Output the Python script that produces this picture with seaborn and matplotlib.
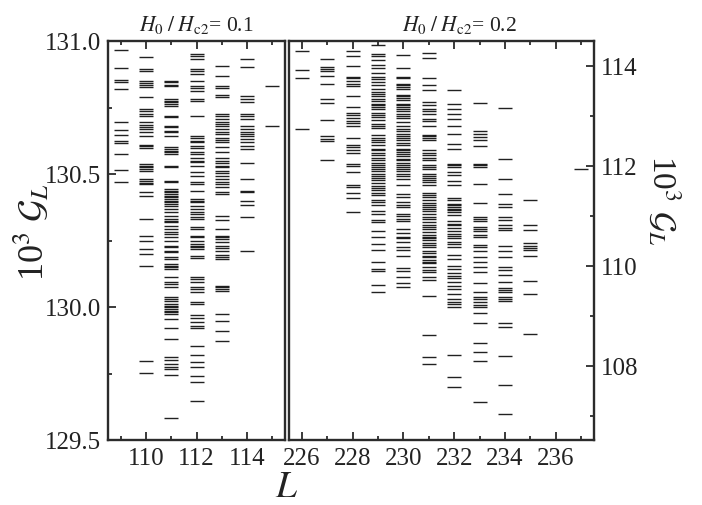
import pandas as pd
import matplotlib
matplotlib.use("Agg")
import matplotlib.pyplot as plt
import seaborn as sns
from matplotlib.ticker import MultipleLocator, FixedLocator

# ------------------------------------------------------------
# data: levels of 10^3 G_L for each cluster size L
# ------------------------------------------------------------
# panel 1 : H0/Hc2 = 0.1
left_109 = [130.965, 130.90, 130.855, 130.845, 130.82, 130.695, 130.665, 130.645,
            130.625, 130.615, 130.575, 130.515, 130.47]
left_110 = [130.939, 130.895, 130.888, 130.848, 130.842, 130.835, 130.826, 130.788,
            130.744, 130.738, 130.726, 130.719, 130.694, 130.684, 130.676, 130.669,
            130.657, 130.644, 130.609, 130.604, 130.597, 130.538, 130.531, 130.525,
            130.518, 130.512, 130.481, 130.475, 130.468, 130.462, 130.431, 130.418,
            130.331, 130.268, 130.25, 130.218, 130.199, 130.153, 129.796, 129.752]
left_111 = [130.851, 130.845, 130.835, 130.83, 130.782, 130.776, 130.769, 130.763,
            130.757, 130.719, 130.713, 130.682, 130.675, 130.663, 130.657, 130.644,
            130.60, 130.594, 130.588, 130.581, 130.575, 130.531, 130.525, 130.475,
            130.469, 130.444, 130.437, 130.431, 130.425, 130.419, 130.412, 130.406,
            130.40, 130.393, 130.387, 130.381, 130.368, 130.356, 130.343, 130.331,
            130.325, 130.318, 130.306, 130.293, 130.281, 130.274, 130.262, 130.249,
            130.231, 130.224, 130.212, 130.206, 130.187, 130.18, 130.162, 130.155,
            130.149, 130.143, 130.112, 130.093, 130.086, 130.074, 130.036, 130.03,
            130.024, 130.011, 130.005, 129.999, 129.992, 129.986, 129.98, 129.974,
            129.955, 129.92, 129.88, 129.811, 129.799, 129.786, 129.774, 129.768,
            129.743, 129.583]
left_112 = [130.951, 130.942, 130.932, 130.895, 130.888, 130.876, 130.851, 130.83,
            130.822, 130.813, 130.782, 130.776, 130.717, 130.644, 130.634, 130.625,
            130.619, 130.607, 130.596, 130.581, 130.575, 130.559, 130.55, 130.544,
            130.531, 130.506, 130.494, 130.469, 130.462, 130.437, 130.406, 130.40,
            130.393, 130.381, 130.368, 130.356, 130.35, 130.337, 130.331, 130.30,
            130.293, 130.268, 130.262, 130.249, 130.237, 130.231, 130.224, 130.218,
            130.193, 130.183, 130.112, 130.105, 130.093, 130.074, 130.068, 130.055,
            130.02, 130.011, 129.97, 129.957, 129.945, 129.927, 129.92, 129.852,
            129.821, 129.792, 129.773, 129.739, 129.719, 129.648]
left_113 = [130.907, 130.867, 130.83, 130.822, 130.797, 130.788, 130.726, 130.717,
            130.707, 130.697, 130.688, 130.679, 130.669, 130.657, 130.65, 130.634,
            130.629, 130.622, 130.60, 130.584, 130.559, 130.55, 130.541, 130.531,
            130.525, 130.513, 130.504, 130.494, 130.481, 130.471, 130.462, 130.45,
            130.434, 130.425, 130.343, 130.328, 130.293, 130.268, 130.262, 130.256,
            130.243, 130.231, 130.221, 130.212, 130.196, 130.187, 130.18, 130.08,
            130.074, 130.068, 130.061, 129.974, 129.949, 129.911, 129.871]
left_114 = [130.932, 130.901, 130.792, 130.782, 130.769, 130.726, 130.717, 130.707,
            130.679, 130.669, 130.659, 130.65, 130.642, 130.632, 130.622, 130.604,
            130.594, 130.541, 130.481, 130.437, 130.431, 130.40, 130.383, 130.337,
            130.212]
left_115 = [130.832, 130.679]

# panel 2 : H0/Hc2 = 0.2
right_226 = [114.31, 113.92, 113.76, 112.75]
right_227 = [114.15, 113.98, 113.95, 113.91, 113.81, 113.65, 113.35, 113.27, 112.92,
             112.61, 112.55, 112.51, 112.12]
right_228 = [114.31, 114.21, 114.01, 113.79, 113.76, 113.71, 113.65, 113.60, 113.41,
             113.19, 113.06, 113.02, 112.96, 112.91, 112.86, 112.81, 112.56, 112.43,
             112.38, 112.32, 112.27, 112.04, 112.00, 111.89, 111.62, 111.58, 111.47,
             111.36, 111.09]
right_229 = [114.413, 114.247, 114.2, 114.113, 114.027, 113.96, 113.86, 113.78, 113.733,
             113.68, 113.613, 113.547, 113.48, 113.447, 113.40, 113.347, 113.293,
             113.247, 113.213, 113.18, 113.133, 113.067, 113.027, 112.98, 112.913,
             112.847, 112.80, 112.76, 112.613, 112.56, 112.513, 112.48, 112.427,
             112.347, 112.313, 112.267, 112.213, 112.16, 112.113, 112.067, 112.013,
             111.98, 111.933, 111.893, 111.847, 111.80, 111.76, 111.713, 111.667,
             111.60, 111.56, 111.513, 111.467, 111.427, 111.313, 111.28, 111.227,
             111.093, 111.047, 110.913, 110.88, 110.693, 110.58, 110.44, 110.32,
             110.087, 109.94, 109.90, 109.62, 109.473]
right_230 = [114.227, 113.96, 113.78, 113.76, 113.647, 113.613, 113.58, 113.547, 113.427,
             113.40, 113.36, 113.313, 113.247, 113.213, 113.18, 113.147, 113.093,
             113.047, 113.0, 112.96, 112.88, 112.80, 112.733, 112.693, 112.647, 112.60,
             112.56, 112.513, 112.467, 112.413, 112.347, 112.313, 112.28, 112.247,
             112.20, 112.147, 112.113, 112.067, 112.013, 111.98, 111.933, 111.893,
             111.847, 111.80, 111.747, 111.613, 111.447, 111.38, 111.28, 111.227,
             111.18, 111.047, 111.0, 110.947, 110.893, 110.733, 110.667, 110.587,
             110.553, 110.487, 110.387, 110.32, 110.207, 109.953, 109.907, 109.773,
             109.653, 109.573]
right_231 = [114.267, 114.16, 113.76, 113.613, 113.513, 113.28, 113.227, 113.147, 113.093,
             113.047, 112.947, 112.893, 112.80, 112.627, 112.60, 112.56, 112.513,
             112.313, 112.267, 112.213, 112.16, 112.113, 112.013, 111.98, 111.933,
             111.847, 111.80, 111.76, 111.713, 111.68, 111.613, 111.467, 111.427,
             111.38, 111.313, 111.267, 111.227, 111.18, 111.133, 111.093, 111.047,
             110.98, 110.933, 110.88, 110.827, 110.78, 110.733, 110.68, 110.627,
             110.58, 110.553, 110.52, 110.453, 110.42, 110.373, 110.307, 110.267,
             110.20, 110.173, 110.12, 110.087, 110.053, 109.973, 109.92, 109.887,
             109.787, 109.72, 109.40, 108.62, 108.173, 108.04]
right_232 = [113.513, 113.247, 113.147, 113.047, 112.933, 112.80, 112.647, 112.447,
             112.347, 112.047, 112.013, 111.98, 111.88, 111.827, 111.693, 111.613,
             111.36, 111.313, 111.247, 111.213, 111.18, 111.147, 111.113, 111.08,
             111.013, 110.893, 110.847, 110.813, 110.76, 110.693, 110.647, 110.60,
             110.553, 110.487, 110.44, 110.373, 110.22, 110.133, 110.0, 109.933,
             109.867, 109.80, 109.753, 109.687, 109.60, 109.533, 109.44, 109.333,
             109.287, 109.24, 109.173, 108.22, 107.773, 107.573]
right_233 = [113.267, 112.693, 112.647, 112.58, 112.513, 112.40, 112.047, 112.013, 111.98,
             111.647, 111.267, 110.98, 110.947, 110.893, 110.78, 110.747, 110.693,
             110.627, 110.58, 110.42, 110.387, 110.307, 110.187, 110.087, 109.987,
             109.887, 109.667, 109.487, 109.373, 109.333, 109.287, 109.22, 109.173,
             109.067, 108.853, 108.453, 108.287, 108.107, 107.287]
right_234 = [113.16, 112.133, 111.733, 111.447, 111.247, 111.18, 110.98, 110.913, 110.813,
             110.76, 110.713, 110.40, 110.307, 110.173, 109.987, 109.92, 109.82, 109.687,
             109.553, 109.52, 109.487, 109.373, 109.333, 109.307, 108.853, 108.773,
             108.20, 107.613, 107.033]
right_235 = [111.313, 110.813, 110.713, 110.453, 110.40, 110.353, 110.32, 110.207, 109.707,
             109.44, 108.633]
right_237 = [111.947]

left_sizes = [109, 110, 111, 112, 113, 114, 115]
left_levels = [left_109, left_110, left_111, left_112, left_113, left_114, left_115]
right_sizes = [226, 227, 228, 229, 230, 231, 232, 233, 234, 235, 237]
right_levels = [right_226, right_227, right_228, right_229, right_230, right_231,
                right_232, right_233, right_234, right_235, right_237]

titles = [r"$H_{\mathrm{0}}\;/\;H_{\mathrm{c2}}$= 0.1", r"$H_{\mathrm{0}}\;/\;H_{\mathrm{c2}}$= 0.2"]
ylabel_txt = r"10$^3$ $\mathcal{G}_L$"


def to_frame(sizes, levels):
    rows = []
    for L, vals in zip(sizes, levels):
        for v in vals:
            rows.append({"L": L, "G": v})
    return pd.DataFrame(rows)


df_left = to_frame(left_sizes, left_levels)
df_right = to_frame(right_sizes, right_levels)

# ------------------------------------------------------------
# style
# ------------------------------------------------------------
sns.set_style("ticks")
plt.rcParams["font.family"] = ["Liberation Serif", "DejaVu Serif"]
plt.rcParams["mathtext.fontset"] = "stix"

W, H = 702, 506
fig = plt.figure(figsize=(W / 100, H / 100), dpi=100)
ax1 = fig.add_axes([108 / W, 65 / H, 177 / W, 399 / H])
ax2 = fig.add_axes([289 / W, 65 / H, 305 / W, 399 / H])

DASH = dict(marker="_", s=92, color="#151515", linewidth=1.0, alpha=0.95, legend=False)
sns.scatterplot(data=df_left, x="L", y="G", ax=ax1, **DASH)
sns.scatterplot(data=df_right, x="L", y="G", ax=ax2, **DASH)

ax1.set_xlim(108.5, 115.5)
ax1.set_ylim(129.5, 131.0)
ax1.xaxis.set_major_locator(FixedLocator([110, 112, 114]))
ax1.xaxis.set_minor_locator(FixedLocator([109, 111, 113, 115]))
ax1.yaxis.set_major_locator(MultipleLocator(0.5))
ax1.yaxis.set_minor_locator(MultipleLocator(0.25))
ax1.yaxis.set_major_formatter(matplotlib.ticker.FormatStrFormatter("%.1f"))

ax2.set_xlim(225.5, 237.5)
ax2.set_ylim(106.52, 114.5)
ax2.xaxis.set_major_locator(MultipleLocator(2))
ax2.xaxis.set_minor_locator(MultipleLocator(1))
ax2.yaxis.set_major_locator(MultipleLocator(2))
ax2.yaxis.set_minor_locator(MultipleLocator(1))
ax2.yaxis.tick_right()

for ax in (ax1, ax2):
    for sp in ax.spines.values():
        sp.set_visible(True)
        sp.set_linewidth(1.7)
        sp.set_color("#2b2b2b")
    ax.set_xlabel("")
    ax.set_ylabel("")
    ax.tick_params(which="both", direction="in", top=True, bottom=True,
                   labelsize=18, colors="#2b2b2b", labelcolor="#222222", width=1.3)
    ax.tick_params(which="major", length=6, pad=5)
    ax.tick_params(which="minor", length=3)

ax1.tick_params(axis="y", which="both", left=True, right=False)
ax2.tick_params(axis="y", which="both", left=False, right=True, labelright=True, labelleft=False)

ax1.text(0.5, 1.015, titles[0], transform=ax1.transAxes, ha="center", va="bottom",
         fontsize=15.5, color="#222222")
ax2.text(0.56, 1.015, titles[1], transform=ax2.transAxes, ha="center", va="bottom",
         fontsize=15.5, color="#222222")

fig.text(32 / W, 1 - 232 / H, ylabel_txt, rotation=90, ha="center", va="center",
         fontsize=26, color="#222222")
fig.text(664 / W, 1 - 200 / H, ylabel_txt, rotation=-90, ha="center", va="center",
         fontsize=24, color="#222222")
fig.text(287 / W, 1 - 488 / H, r"$L$", ha="center", va="center",
         fontsize=27, color="#222222")

fig.savefig("out.png", dpi=100, facecolor="white")
